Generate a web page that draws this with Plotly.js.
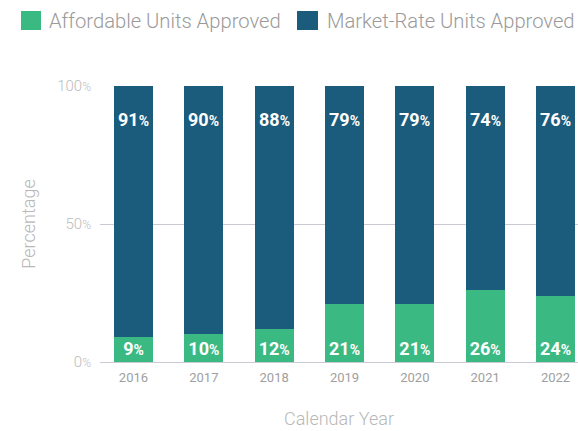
<!DOCTYPE html>
<html>
<head>
<meta charset="utf-8">
<script src="https://cdn.plot.ly/plotly-3.0.1.min.js"></script>
<style>html,body{margin:0;padding:0;background:#fff;}#chart{width:578px;height:431px;}</style>
</head>
<body>
<div id="chart"></div>
<script>
const years = ['2016','2017','2018','2019','2020','2021','2022'];
const affordable = [9, 10, 12, 21, 21, 26, 24];
const marketRate = [91, 90, 88, 79, 79, 74, 76];
const seriesNames = ['Affordable Units Approved', 'Market-Rate Units Approved'];
const seriesColors = ['#3bb983', '#1b5b7b'];
const yTickVals = [0, 50, 100];
const yTickText = ['0', '50', '100'];

const W = 578, H = 431;
const M = {l: 100, r: 0, t: 86, b: 69};
const pw = W - M.l - M.r, ph = H - M.t - M.b;
const px = x => (x - M.l) / pw;
const py = y => (H - M.b - y) / ph;

const FONT = 'Roboto, "Open Sans", sans-serif';
const pctSpan = (s, sz) => s + '<span style="font-size:' + sz + 'px">%</span>';

const traces = [
  {
    type: 'bar', name: seriesNames[0], x: years, y: affordable,
    marker: {color: seriesColors[0]},
    text: affordable.map(v => pctSpan(String(v), 14)),
    textposition: 'inside', insidetextanchor: 'start', constraintext: 'none',
    textangle: 0,
    textfont: {family: FONT, size: 18, color: '#ffffff', weight: 700},
    hoverinfo: 'skip', showlegend: false
  },
  {
    type: 'bar', name: seriesNames[1], x: years, y: marketRate,
    marker: {color: seriesColors[1]},
    hoverinfo: 'skip', showlegend: false
  }
];

const annotations = [];
years.forEach((yr, i) => {
  annotations.push({
    x: i, y: 100, xref: 'x', yref: 'y', yanchor: 'top', yshift: -21,
    text: pctSpan(String(marketRate[i]), 14), showarrow: false,
    font: {family: FONT, size: 18, color: '#ffffff', weight: 700}
  });
});

// custom legend
const legendSq = [[21, 41], [297, 318]];
const legendTx = [47, 325];
const shapes = [];
seriesNames.forEach((nm, i) => {
  shapes.push({
    type: 'rect', xref: 'paper', yref: 'paper',
    x0: px(legendSq[i][0]), x1: px(legendSq[i][1]), y0: py(30), y1: py(11),
    fillcolor: seriesColors[i], line: {width: 0}
  });
  annotations.push({
    xref: 'paper', yref: 'paper', x: px(legendTx[i]), y: py(21),
    xanchor: 'left', yanchor: 'middle', text: nm, showarrow: false,
    font: {family: FONT, size: 20.2, color: '#9a9a9a', weight: 300}
  });
});

const layout = {
  width: W, height: H, margin: M,
  paper_bgcolor: '#ffffff', plot_bgcolor: '#ffffff',
  barmode: 'stack', bargap: 0.445,
  showlegend: false,
  font: {family: FONT},
  xaxis: {
    type: 'category', range: [-0.476, 6.32],
    showgrid: false, zeroline: false, showline: false,
    ticks: '', ticklabelstandoff: 6,
    tickfont: {family: FONT, size: 13, color: '#a0a0a0'},
    title: {text: 'Calendar Year', standoff: 28, font: {family: FONT, size: 18, color: '#b8b8b8', weight: 300}},
    automargin: false
  },
  yaxis: {
    range: [0, 100], fixedrange: true,
    tickvals: yTickVals, ticktext: yTickText.map(s => pctSpan(s, 12)),
    showgrid: true, gridcolor: '#c9cad3', gridwidth: 1,
    zeroline: true, zerolinecolor: '#c9cad3', zerolinewidth: 1,
    showline: false, ticks: '', ticklabelstandoff: 8,
    tickfont: {family: FONT, size: 15, color: '#bcbcbc', weight: 300},
    title: {text: 'Percentage', standoff: 16, font: {family: FONT, size: 18, color: '#b8b8b8', weight: 300}},
    automargin: false
  },
  shapes: shapes,
  annotations: annotations
};

Plotly.newPlot('chart', traces, layout, {displayModeBar: false, staticPlot: true});
</script>
</body>
</html>
